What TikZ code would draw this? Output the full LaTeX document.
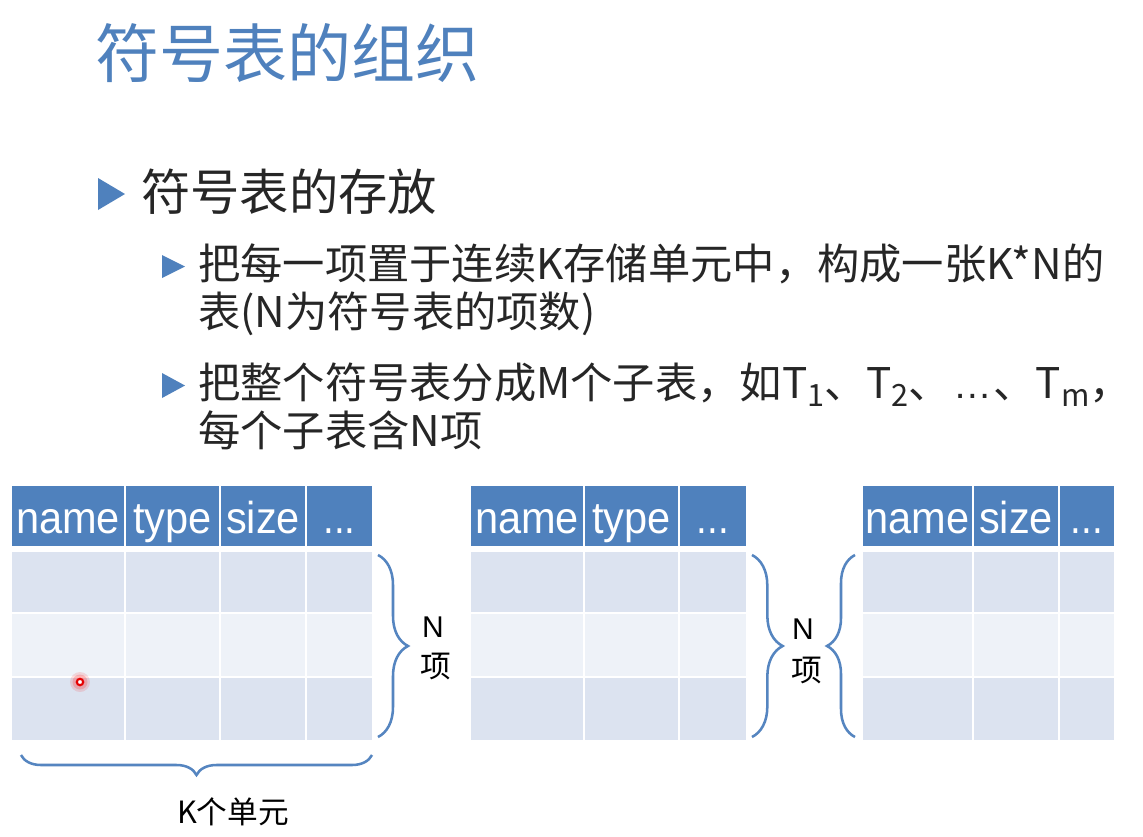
\documentclass[tikz,border=0pt]{standalone}
\usepackage{fontspec}
\newfontfamily\cjk{Noto Sans CJK SC}
\newfontfamily\lat{Liberation Sans}
\usetikzlibrary{decorations.pathreplacing}
\definecolor{hdr}{HTML}{4F81BD}
\definecolor{bandA}{HTML}{DCE3F0}
\definecolor{bandB}{HTML}{EEF2F8}
\definecolor{txt}{HTML}{262626}
\definecolor{bracec}{HTML}{5585C0}
\definecolor{ttl}{HTML}{4F81BD}
\newcommand\fsz[1]{\fontsize{#1pt}{#1pt}\selectfont}
\newcommand\mysubs[1]{\raisebox{-0.2em}{\fsz{23}#1}}
\newcommand\hd[1]{\scalebox{0.93}[1]{#1}}
\newcommand\tdots{\hd{...}}
\newcommand\tcell[7]{\node[#6, minimum width={(#4-#2)*0.75pt}, minimum height={(#5-#3)*0.75pt}] (#1) at ({(#2+#4)/2},{(#3+#5)/2}) {#7};}
\tikzset{
  cellbase/.style={rectangle, inner sep=0pt, outer sep=0pt, draw=none},
  hcell/.style={cellbase, fill=hdr, text=white, font=\lat\fsz{33.5}, text height=25.5pt, text depth=0pt},
  rowA/.style={cellbase, fill=bandA},
  rowB/.style={cellbase, fill=bandB},
  curly/.style={draw=bracec, line width=1.9pt, decorate, decoration={brace, amplitude=#1}},
  bodytext/.style={anchor=base west, inner sep=0pt, text=txt, font=\cjk\fsz{31.7}},
  bullet/.style={fill=hdr},
  lbl/.style={text=black, inner sep=0pt}
}
\begin{document}
\begin{tikzpicture}[x=0.75pt,y=-0.75pt]
\useasboundingbox (0,0) rectangle (1143,836);
\fill[white] (0,0) rectangle (1143,836);

% title
\node[anchor=base west, inner sep=0pt, text=ttl, font=\cjk\fsz{48}] (title) at (95,77) {符号表的组织};

% bullets
\fill[bullet] (98,178) -- (125,194) -- (98,210) -- cycle;
\node[anchor=base west, inner sep=0pt, text=txt, font=\cjk\fsz{37}] (l1) at (141,210) {符号表的存放};

\fill[bullet] (162,255) -- (185,266.5) -- (162,278) -- cycle;
\node[bodytext] (l2a) at (198,279) {把每一项置于连续K存储单元中，构成一张K*N的};
\node[bodytext] (l2b) at (198,327) {表(N为符号表的项数)};

\fill[bullet] (162,373) -- (185,385.5) -- (162,398) -- cycle;
\node[bodytext] (l3a) at (198,398) {把整个符号表分成M个子表，如T\mysubs{1}、T\mysubs{2}、\makebox[1em][c]{\lat\fsz{29}…}、T\mysubs{m}，};
\node[bodytext] (l3b) at (198,446) {每个子表含N项};

% table 1
\foreach \xa/\xb/\lab/\c in {12/124/name/1, 126/219/type/2, 221/305/size/3, 307/372/\tdots/4}{
  \tcell{t1h\c}{\xa}{486}{\xb}{546}{hcell}{\hd{\lab}}
  \tcell{t1a\c}{\xa}{552}{\xb}{612}{rowA}{}
  \tcell{t1b\c}{\xa}{614}{\xb}{676}{rowB}{}
  \tcell{t1c\c}{\xa}{678}{\xb}{740}{rowA}{}
}
% table 2
\foreach \xa/\xb/\lab/\c in {471/583/name/1, 585/678/type/2, 680/746/\tdots/3}{
  \tcell{t2h\c}{\xa}{486}{\xb}{546}{hcell}{\hd{\lab}}
  \tcell{t2a\c}{\xa}{552}{\xb}{612}{rowA}{}
  \tcell{t2b\c}{\xa}{614}{\xb}{676}{rowB}{}
  \tcell{t2c\c}{\xa}{678}{\xb}{740}{rowA}{}
}
% table 3
\foreach \xa/\xb/\lab/\c in {863/972/name/1, 974/1058/size/2, 1060/1114/\tdots/3}{
  \tcell{t3h\c}{\xa}{486}{\xb}{546}{hcell}{\hd{\lab}}
  \tcell{t3a\c}{\xa}{552}{\xb}{612}{rowA}{}
  \tcell{t3b\c}{\xa}{614}{\xb}{676}{rowB}{}
  \tcell{t3c\c}{\xa}{678}{\xb}{740}{rowA}{}
}

% braces
\coordinate (b1t) at (378,555); \coordinate (b1b) at (378,737);
\draw[curly=22.5pt] (b1t) -- (b1b);
\coordinate (bkr) at (372,755); \coordinate (bkl) at (21,755);
\draw[curly=15pt] (bkr) -- (bkl);
\coordinate (b2t) at (752,555); \coordinate (b2b) at (752,737);
\draw[curly=23pt] (b2t) -- (b2b);
\coordinate (b3b) at (855,737); \coordinate (b3t) at (855,555);
\draw[curly=21pt] (b3b) -- (b3t);

% labels
\node[lbl, font=\lat\fsz{22.5}] (n1) at (433,627) {N};
\node[lbl, font=\cjk\fsz{23}] (x1) at (436,666) {项};
\node[lbl, font=\lat\fsz{22.5}] (n2) at (803,629) {N};
\node[lbl, font=\cjk\fsz{23}] (x2) at (807,670) {项};
\node[lbl, font=\cjk\fsz{23}] (k) at (233,812) {K个单元};

% red pointer dot
\fill[red, opacity=0.12] (80,682) circle (10);
\fill[red, opacity=0.18] (80,682) circle (7.5);
\draw[red!90!black, line width=1.6pt, fill=white] (80,682) circle (3.2);
\end{tikzpicture}
\end{document}
